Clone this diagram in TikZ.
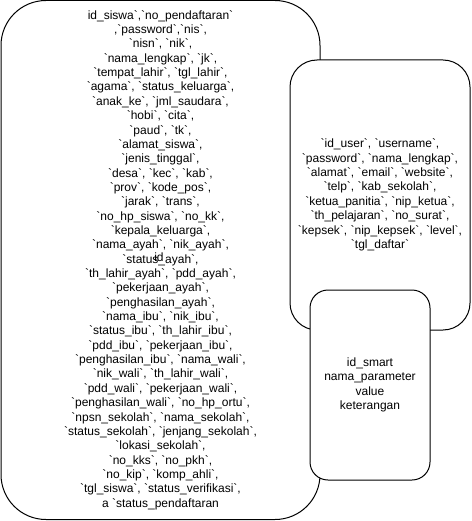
\documentclass[tikz,border=0pt]{standalone}
\usepackage{fontspec}
\setmainfont{Liberation Sans}[Ligatures=TeXOff]
\begin{document}
\begin{tikzpicture}[x=1pt,y=-1pt,
  tbl/.style={draw=black,line width=1pt,fill=white,rectangle,inner sep=0pt,
    align=center,font=\fontsize{12}{14.35}\selectfont},
  lbl/.style={inner sep=0pt,font=\fontsize{12}{14.35}\selectfont}]
\useasboundingbox (0,0) rectangle (471,521);
\node[tbl,minimum width=319pt,minimum height=519pt,rounded corners=45pt] (siswa) at (160.5,260) {%
id\_siswa`,`no\_pendaftaran`\\
,`password`,`nis`,\\
`nisn`, `nik`,\\
`nama\_lengkap`, `jk`,\\
`tempat\_lahir`, `tgl\_lahir`,\\
`agama`, `status\_keluarga`,\\
`anak\_ke`, `jml\_saudara`,\\
`hobi`, `cita`,\\
`paud`, `tk`,\\
`alamat\_siswa`,\\
`jenis\_tinggal`,\\
`desa`, `kec`, `kab`,\\
`prov`, `kode\_pos`,\\
`jarak`, `trans`,\\
`no\_hp\_siswa`, `no\_kk`,\\
`kepala\_keluarga`,\\
`nama\_ayah`, `nik\_ayah`,\\
`status\_ayah`,\\
`th\_lahir\_ayah`, `pdd\_ayah`,\\
`pekerjaan\_ayah`,\\
`penghasilan\_ayah`,\\
`nama\_ibu`, `nik\_ibu`,\\
`status\_ibu`, `th\_lahir\_ibu`,\\
`pdd\_ibu`, `pekerjaan\_ibu`,\\
`penghasilan\_ibu`, `nama\_wali`,\\
`nik\_wali`, `th\_lahir\_wali`,\\
`pdd\_wali`, `pekerjaan\_wali`,\\
`penghasilan\_wali`, `no\_hp\_ortu`,\\
`npsn\_sekolah`, `nama\_sekolah`,\\
`status\_sekolah`, `jenjang\_sekolah`,\\
`lokasi\_sekolah`,\\
`no\_kks`, `no\_pkh`,\\
`no\_kip`, `komp\_ahli`,\\
`tgl\_siswa`, `status\_verifikasi`,\\
a `status\_pendaftaran};
\node[lbl] (idlbl) at (159,257) {id};
\node[tbl,minimum width=180pt,minimum height=270pt,rounded corners=27pt] (user) at (380,195) {%
`id\_user`, `username`,\\
`password`, `nama\_lengkap`,\\
`alamat`, `email`, `website`,\\
`telp`, `kab\_sekolah`,\\
`ketua\_panitia`, `nip\_ketua`,\\
`th\_pelajaran`, `no\_surat`,\\
`kepsek`, `nip\_kepsek`, `level`,\\
`tgl\_daftar`};
\node[tbl,minimum width=120pt,minimum height=190pt,rounded corners=18pt] (smart) at (370,385) {%
id\_smart\\
nama\_parameter\\
value\\
keterangan};
\end{tikzpicture}
\end{document}
